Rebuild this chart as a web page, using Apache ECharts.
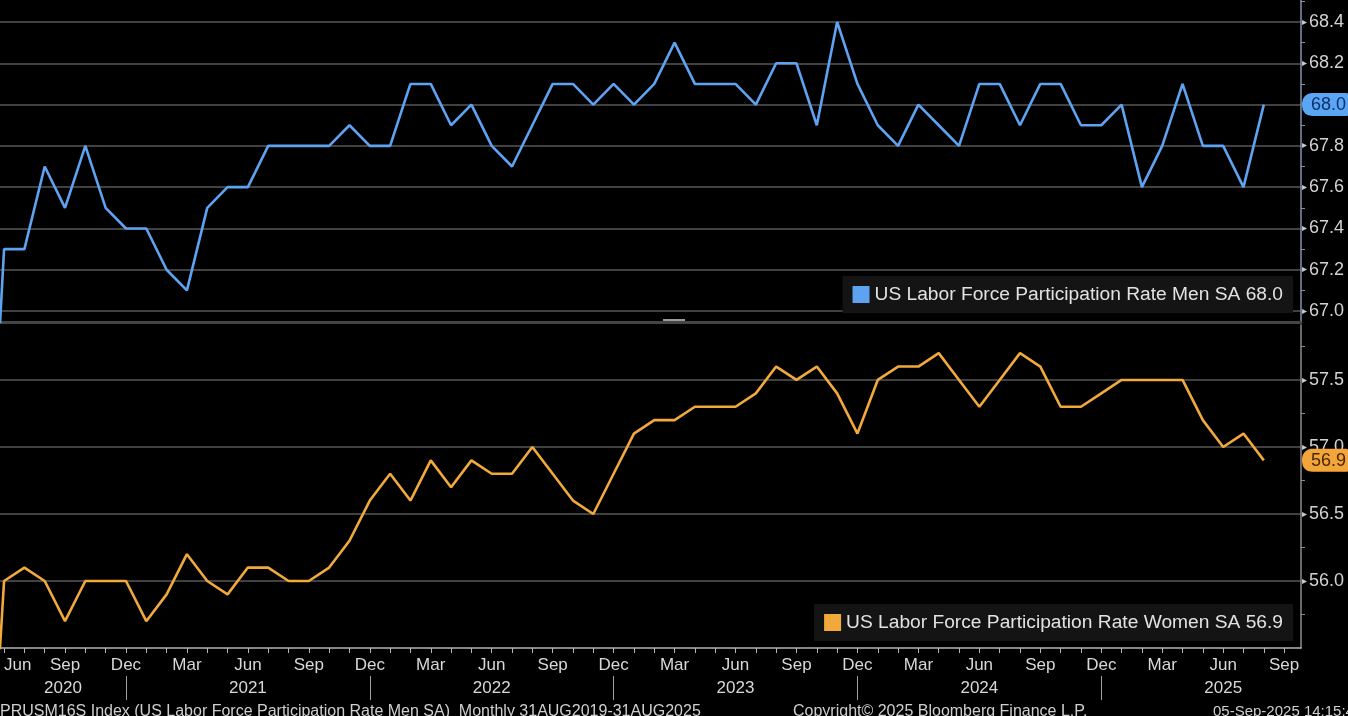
<!DOCTYPE html>
<html>
<head>
<meta charset="utf-8">
<script src="https://cdn.jsdelivr.net/npm/echarts@6/dist/echarts.min.js"></script>
<style>
html,body{margin:0;padding:0;background:#000;}
#c{width:1348px;height:716px;}
</style>
</head>
<body>
<div id="c"></div>
<script>
// ---- data (monthly, May 2020 .. Sep 2025 axis slots) ----
const months = [
  '2020-05','2020-06','2020-07','2020-08','2020-09','2020-10','2020-11','2020-12',
  '2021-01','2021-02','2021-03','2021-04','2021-05','2021-06','2021-07','2021-08','2021-09','2021-10','2021-11','2021-12',
  '2022-01','2022-02','2022-03','2022-04','2022-05','2022-06','2022-07','2022-08','2022-09','2022-10','2022-11','2022-12',
  '2023-01','2023-02','2023-03','2023-04','2023-05','2023-06','2023-07','2023-08','2023-09','2023-10','2023-11','2023-12',
  '2024-01','2024-02','2024-03','2024-04','2024-05','2024-06','2024-07','2024-08','2024-09','2024-10','2024-11','2024-12',
  '2025-01','2025-02','2025-03','2025-04','2025-05','2025-06','2025-07','2025-08','2025-09'
];
const men = [
  65.5, 67.3, 67.3, 67.7, 67.5, 67.8, 67.5, 67.4,
  67.4, 67.2, 67.1, 67.5, 67.6, 67.6, 67.8, 67.8, 67.8, 67.8, 67.9, 67.8,
  67.8, 68.1, 68.1, 67.9, 68.0, 67.8, 67.7, 67.9, 68.1, 68.1, 68.0, 68.1,
  68.0, 68.1, 68.3, 68.1, 68.1, 68.1, 68.0, 68.2, 68.2, 67.9, 68.4, 68.1,
  67.9, 67.8, 68.0, 67.9, 67.8, 68.1, 68.1, 67.9, 68.1, 68.1, 67.9, 67.9,
  68.0, 67.6, 67.8, 68.1, 67.8, 67.8, 67.6, 68.0
];
const women = [
  53.5, 56.0, 56.1, 56.0, 55.7, 56.0, 56.0, 56.0,
  55.7, 55.9, 56.2, 56.0, 55.9, 56.1, 56.1, 56.0, 56.0, 56.1, 56.3, 56.6,
  56.8, 56.6, 56.9, 56.7, 56.9, 56.8, 56.8, 57.0, 56.8, 56.6, 56.5, 56.8,
  57.1, 57.2, 57.2, 57.3, 57.3, 57.3, 57.4, 57.6, 57.5, 57.6, 57.4, 57.1,
  57.5, 57.6, 57.6, 57.7, 57.5, 57.3, 57.5, 57.7, 57.6, 57.3, 57.3, 57.4,
  57.5, 57.5, 57.5, 57.5, 57.2, 57.0, 57.1, 56.9
];
const monthNames = ['Jan','Feb','Mar','Apr','May','Jun','Jul','Aug','Sep','Oct','Nov','Dec'];
const labelMonths = ['Mar','Jun','Sep','Dec'];
const yearLabels = ['2020','2021','2022','2023','2024','2025'];
const menTicks = [67.0, 67.2, 67.4, 67.6, 67.8, 68.0, 68.2, 68.4];
const menMinorTicks = [67.1, 67.3, 67.5, 67.7, 67.9, 68.1, 68.3, 68.5];
const womenTicks = [56.0, 56.5, 57.0, 57.5];
const womenMinorTicks = [55.75, 56.25, 56.75, 57.25, 57.75];
const menName = 'US Labor Force Participation Rate Men SA';
const womenName = 'US Labor Force Participation Rate Women SA';

// ---- view ----
const X_MIN = 0.8, X_MAX = 64.83;
const MEN_MIN = 66.947, MEN_MAX = 68.5065;
const WOMEN_MIN = 55.5, WOMEN_MAX = 57.91;

const monthOf = i => monthNames[parseInt(months[i].slice(5), 10) - 1];
const idxAll = months.map((m, i) => i).filter(i => i >= X_MIN && i <= X_MAX);
const idxQuarter = idxAll.filter(i => labelMonths.indexOf(monthOf(i)) >= 0);
const idxDec = idxAll.filter(i => monthOf(i) === 'Dec');
const yearCenters = yearLabels.map(y => {
  const decThis = months.indexOf(y + '-12');
  const endI = decThis >= 0 ? decThis : months.indexOf(y + '-06') + 6;
  const decPrev = months.indexOf((+y - 1) + '-12');
  const startI = decPrev >= 0 ? decPrev : X_MIN;
  return (startI + endI) / 2;
});

const lastMen = men[men.length - 1];
const lastWomen = women[women.length - 1];
const FONT = 'Liberation Sans, Arial, sans-serif';
const BLUE = '#5ea3f2';
const ORANGE = '#f2a93b';

function yLabelFormatter(last, tagKey) {
  return function (v) {
    if (Math.abs(v - last) < 1e-6) return '{' + tagKey + '|' + v.toFixed(1) + '}';
    return '{tri|\u25B8}{n|' + v.toFixed(1) + '}';
  };
}
const richBase = {
  tri: {fontSize: 10, color: '#c4cbd8', fontFamily: 'DejaVu Sans', padding: [0, 2, 0, 0]},
  n: {fontSize: 18, color: '#d2d2d2', fontFamily: FONT},
  tagM: {fontSize: 18, color: '#0d2f6e', fontFamily: FONT, backgroundColor: '#5aa6f2',
         padding: [3, 3, 2, 9], borderRadius: [10, 3, 3, 10]},
  tagW: {fontSize: 18, color: '#4a2400', fontFamily: FONT, backgroundColor: '#f2a63a',
         padding: [3, 3, 2, 9], borderRadius: [10, 3, 3, 10]}
};

const chart = echarts.init(document.getElementById('c'), null, {renderer: 'canvas'});
const option = {
  backgroundColor: '#000',
  animation: false,
  textStyle: {fontFamily: FONT},
  grid: [
    {left: 0, right: 47, top: 0, height: 322, containLabel: false, outerBoundsMode: 'none'},
    {left: 0, right: 47, top: 325, height: 323, containLabel: false, outerBoundsMode: 'none'}
  ],
  xAxis: [
    {gridIndex: 0, type: 'value', min: X_MIN, max: X_MAX,
     axisLine: {show: true, lineStyle: {color: '#454545', width: 3}},
     axisTick: {show: false}, axisLabel: {show: false}, splitLine: {show: false}},
    {gridIndex: 1, type: 'value', min: X_MIN, max: X_MAX,
     axisLine: {show: true, lineStyle: {color: '#b4b4b4', width: 1.5}},
     axisTick: {show: true, customValues: idxAll, length: 5, lineStyle: {color: '#b4b4b4'}},
     axisLabel: {show: true, customValues: idxQuarter, formatter: v => monthOf(Math.round(v)),
                 color: '#d8d8d8', fontSize: 17, margin: 9, alignMinLabel: 'left'},
     splitLine: {show: false}},
    {gridIndex: 1, type: 'value', min: X_MIN, max: X_MAX, position: 'bottom', offset: 28,
     axisLine: {show: false},
     axisTick: {show: true, customValues: idxDec, length: 24, lineStyle: {color: '#a0a0a0'}},
     axisLabel: {show: true, customValues: yearCenters, margin: 4, color: '#d8d8d8', fontSize: 17,
                 formatter: v => {
                   let k = 0, best = 1e9;
                   yearCenters.forEach((c, j) => { if (Math.abs(c - v) < best) { best = Math.abs(c - v); k = j; } });
                   return yearLabels[k];
                 }},
     splitLine: {show: false}}
  ],
  yAxis: [
    {gridIndex: 0, type: 'value', position: 'right', min: MEN_MIN, max: MEN_MAX,
     axisLine: {show: true, lineStyle: {color: '#8593aa', width: 1.5}},
     axisTick: {show: false, customValues: menTicks},
     axisLabel: {show: true, customValues: menTicks, margin: 1, formatter: yLabelFormatter(lastMen, 'tagM'), rich: richBase},
     splitLine: {show: true, lineStyle: {color: '#575757', width: 1.6}}},
    {gridIndex: 0, type: 'value', position: 'right', min: MEN_MIN, max: MEN_MAX,
     axisLine: {show: false},
     axisTick: {show: true, customValues: menMinorTicks, length: 4, lineStyle: {color: '#8593aa'}},
     axisLabel: {show: false}, splitLine: {show: false}},
    {gridIndex: 1, type: 'value', position: 'right', min: WOMEN_MIN, max: WOMEN_MAX,
     axisLine: {show: true, lineStyle: {color: '#8c8c8c', width: 1.5}},
     axisTick: {show: false, customValues: womenTicks},
     axisLabel: {show: true, customValues: womenTicks.concat([lastWomen]), margin: 1,
                 formatter: yLabelFormatter(lastWomen, 'tagW'), rich: richBase},
     splitLine: {show: true, lineStyle: {color: '#575757', width: 1.6}}},
    {gridIndex: 1, type: 'value', position: 'right', min: WOMEN_MIN, max: WOMEN_MAX,
     axisLine: {show: false},
     axisTick: {show: true, customValues: womenMinorTicks, length: 4, lineStyle: {color: '#8c8c8c'}},
     axisLabel: {show: false}, splitLine: {show: false}}
  ],
  legend: [
    {data: [menName + ' ' + lastMen.toFixed(1)], right: 55, top: 276, icon: 'rect',
     itemWidth: 17, itemHeight: 17, backgroundColor: '#141414', padding: [9, 10, 9, 10],
     textStyle: {color: '#e2e2e2', fontSize: 19.2, fontFamily: FONT}, selectedMode: false},
    {data: [womenName + ' ' + lastWomen.toFixed(1)], right: 55, top: 604, icon: 'rect',
     itemWidth: 17, itemHeight: 17, backgroundColor: '#141414', padding: [9, 10, 9, 10],
     textStyle: {color: '#e2e2e2', fontSize: 19.2, fontFamily: FONT}, selectedMode: false}
  ],
  series: [
    {name: menName + ' ' + lastMen.toFixed(1), type: 'line', xAxisIndex: 0, yAxisIndex: 0,
     data: men.map((v, i) => [i, v]), symbol: 'none', showSymbol: false, clip: true,
     lineStyle: {color: BLUE, width: 2.6}, itemStyle: {color: BLUE}},
    {name: womenName + ' ' + lastWomen.toFixed(1), type: 'line', xAxisIndex: 1, yAxisIndex: 2,
     data: women.map((v, i) => [i, v]), symbol: 'none', showSymbol: false, clip: true,
     lineStyle: {color: ORANGE, width: 2.6}, itemStyle: {color: ORANGE}}
  ],
  graphic: [
    {type: 'rect', left: 'center', top: 319, shape: {width: 22, height: 5}, style: {fill: '#9a9a9a'}},
    {type: 'text', left: 0, top: 704, style: {text: 'PRUSM16S Index (US Labor Force Participation Rate Men SA)  Monthly 31AUG2019-31AUG2025', fill: '#cfcfcf', font: '16px ' + FONT}},
    {type: 'text', left: 793, top: 704, style: {text: 'Copyright\u00A9 2025 Bloomberg Finance L.P.', fill: '#cfcfcf', font: '16px ' + FONT}},
    {type: 'text', left: 1213, top: 704, style: {text: '05-Sep-2025 14:15:49', fill: '#cfcfcf', font: '15px ' + FONT}}
  ]
};
chart.setOption(option);
</script>
</body>
</html>
